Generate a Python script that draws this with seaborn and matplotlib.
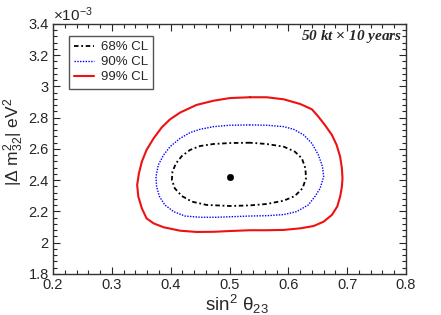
import numpy as np
import pandas as pd
import matplotlib
matplotlib.use('Agg')
import matplotlib.pyplot as plt
from matplotlib.ticker import MultipleLocator, FuncFormatter
import seaborn as sns

# contour points (sin^2 theta23, |dm^2_32| in 1e-3 eV^2)
cl68_x = [0.535, 0.501, 0.473, 0.450, 0.433, 0.419, 0.409, 0.403, 0.402, 0.407,
          0.419, 0.436, 0.461, 0.501, 0.535, 0.563, 0.592, 0.611, 0.624, 0.630,
          0.629, 0.623, 0.611, 0.592, 0.563, 0.535]
cl68_y = [2.640, 2.638, 2.632, 2.619, 2.594, 2.555, 2.508, 2.455, 2.402, 2.348,
          2.299, 2.263, 2.242, 2.235, 2.239, 2.248, 2.269, 2.299, 2.348, 2.412,
          2.476, 2.540, 2.583, 2.615, 2.632, 2.640]

cl90_x = [0.535, 0.501, 0.473, 0.450, 0.433, 0.416, 0.399, 0.388, 0.379, 0.375,
          0.376, 0.381, 0.390, 0.405, 0.424, 0.450, 0.478, 0.507, 0.535, 0.563,
          0.592, 0.614, 0.634, 0.645, 0.654, 0.660, 0.658, 0.651, 0.640, 0.626,
          0.609, 0.592, 0.563, 0.535]
cl90_y = [2.754, 2.752, 2.743, 2.726, 2.705, 2.668, 2.615, 2.562, 2.498, 2.423,
          2.359, 2.295, 2.242, 2.199, 2.171, 2.163, 2.163, 2.167, 2.171, 2.173,
          2.180, 2.199, 2.242, 2.295, 2.348, 2.423, 2.487, 2.562, 2.636, 2.690,
          2.726, 2.743, 2.752, 2.754]

cl99_x = [0.535, 0.501, 0.473, 0.444, 0.416, 0.399, 0.385, 0.371, 0.359, 0.351,
          0.346, 0.343, 0.345, 0.351, 0.359, 0.371, 0.388, 0.416, 0.444, 0.473,
          0.501, 0.535, 0.563, 0.592, 0.620, 0.643, 0.660, 0.674, 0.683, 0.688,
          0.691, 0.692, 0.691, 0.688, 0.682, 0.674, 0.662, 0.651, 0.640, 0.620,
          0.592, 0.563, 0.535]
cl99_y = [2.931, 2.926, 2.909, 2.882, 2.833, 2.790, 2.739, 2.668, 2.594, 2.519,
          2.444, 2.370, 2.295, 2.220, 2.156, 2.124, 2.099, 2.077, 2.069, 2.070,
          2.075, 2.080, 2.080, 2.082, 2.092, 2.107, 2.135, 2.178, 2.231, 2.295,
          2.359, 2.412, 2.476, 2.551, 2.626, 2.690, 2.754, 2.807, 2.854, 2.888,
          2.918, 2.931, 2.931]

best_x = [0.50]
best_y = [2.42]

labels = ['68% CL', '90% CL', '99% CL']

sns.set_style('ticks')
plt.rcParams['font.family'] = ['Liberation Sans', 'DejaVu Sans']
plt.rcParams['mathtext.fontset'] = 'custom'
plt.rcParams['mathtext.rm'] = 'Liberation Sans'
plt.rcParams['mathtext.it'] = 'Liberation Sans:italic'

fig = plt.figure(figsize=(4.41, 3.15), dpi=100)
ax = fig.add_axes([0.1202, 0.1302, 0.8005, 0.7937])

styles = [dict(color='black', lw=1.3, linestyle=(0, (2.5, 1.5, 1, 1.5))),
          dict(color='blue', lw=1.0, linestyle=(0, (1, 1))),
          dict(color='#ee1111', lw=1.5, linestyle='-')]

for xs, ys, lab, st in zip([cl68_x, cl90_x, cl99_x], [cl68_y, cl90_y, cl99_y], labels, styles):
    df = pd.DataFrame({'x': xs, 'y': ys})
    sns.lineplot(data=df, x='x', y='y', sort=False, estimator=None, ax=ax,
                 label=lab, **st)

sns.scatterplot(x=best_x, y=best_y, color='black', s=22, edgecolor='black', ax=ax, zorder=5)

ax.set_xlim(0.2, 0.8)
ax.set_ylim(1.8, 3.4)
ax.xaxis.set_major_locator(MultipleLocator(0.1))
ax.xaxis.set_minor_locator(MultipleLocator(0.02))
ax.yaxis.set_major_locator(MultipleLocator(0.2))
ax.yaxis.set_minor_locator(MultipleLocator(0.04))
fmt = FuncFormatter(lambda v, p: f'{v:g}')
ax.xaxis.set_major_formatter(fmt)
ax.yaxis.set_major_formatter(fmt)
ax.tick_params(which='both', direction='in', top=True, right=True, labelsize=10.5, pad=3)
ax.tick_params(which='major', length=5, width=0.8)
ax.tick_params(which='minor', length=2.7, width=0.8)
for s in ax.spines.values():
    s.set_visible(True)
    s.set_linewidth(1.0)
    s.set_color('#333333')

ax.set_xlabel(r'$\mathrm{sin}^{2}\ \mathrm{\theta}_{23}$', fontsize=13.5)
ax.set_ylabel(r'$|\Delta\ \mathrm{m}^{2}_{32}|\ \mathrm{eV}^{2}$', fontsize=12.5)
ax.xaxis.set_label_coords(0.52, -0.075)
ax.yaxis.set_label_coords(-0.076, 0.53)

ax.text(0.0, 1.0, r'$\times10^{-3}$', transform=ax.transAxes, fontsize=11,
        ha='left', va='bottom')
ax.text(0.99, 0.95, r'50 kt $\times$ 10 years', transform=ax.transAxes,
        fontsize=11, ha='right', va='center', family='Liberation Serif',
        fontweight='bold', fontstyle='italic')

leg = ax.legend(loc='upper left', bbox_to_anchor=(0.045, 0.952), borderaxespad=0,
                fontsize=9.5, handlelength=1.5, handletextpad=0.5, borderpad=0.4,
                labelspacing=0.2, fancybox=False, framealpha=1, edgecolor='#555555')
leg.get_frame().set_linewidth(1.0)

fig.savefig('out.png', dpi=100)
